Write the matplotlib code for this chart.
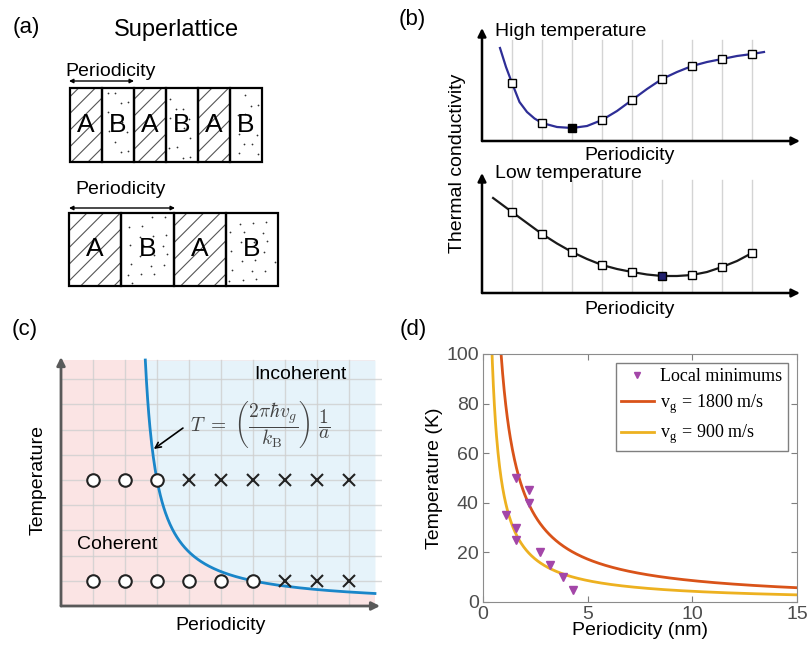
import numpy as np
import matplotlib
matplotlib.use("Agg")
import matplotlib.pyplot as plt
from matplotlib.patches import Rectangle

plt.rcParams['font.family'] = ['Liberation Sans', 'DejaVu Sans']
plt.rcParams['mathtext.fontset'] = 'cm'
plt.rcParams['hatch.linewidth'] = 0.8

W, H = 810, 649

# ---- data ----
# (a) superlattice layers
layers_thin = ['A', 'B', 'A', 'B', 'A', 'B']
layers_thick = ['A', 'B', 'A', 'B']

# (b) schematic thermal conductivity vs periodicity (arbitrary units)
period_idx = [1, 2, 3, 4, 5, 6, 7, 8, 9]
k_high = [5.8, 1.8, 1.3, 2.1, 4.1, 6.2, 7.5, 8.2, 8.7]
k_low = [8.1, 5.9, 4.1, 2.8, 2.1, 1.7, 1.8, 2.6, 4.0]
min_high, min_low = 3, 6
# traced line through the markers
line_high_x = [0.6, 0.8, 1.0, 1.25, 1.5, 1.75, 2.0, 2.5, 3.0, 3.5, 4.0, 4.5, 5.0,
               5.5, 6.0, 6.5, 7.0, 7.5, 8.0, 8.5, 9.0, 9.4]
line_high_y = [9.3, 7.4, 5.8, 3.9, 2.9, 2.25, 1.8, 1.4, 1.3, 1.5, 2.1, 3.0, 4.1,
               5.2, 6.2, 6.9, 7.5, 7.9, 8.2, 8.5, 8.7, 8.9]
line_low_x = [0.37, 1.0, 1.5, 2.0, 2.5, 3.0, 3.5, 4.0, 4.5, 5.0, 5.5, 6.0, 6.5,
              7.0, 7.5, 8.0, 8.5, 9.0]
line_low_y = [9.5, 8.1, 7.0, 5.9, 4.95, 4.1, 3.4, 2.8, 2.4, 2.1, 1.85, 1.7, 1.7,
              1.8, 2.1, 2.6, 3.2, 4.0]

# (c) coherent / incoherent schematic
grid_pos = [1, 2, 3, 4, 5, 6, 7, 8, 9]
row_high_T = 5
row_high_state = ['o', 'o', 'o', 'x', 'x', 'x', 'x', 'x', 'x']
row_low_T = 1
row_low_state = ['o', 'o', 'o', 'o', 'o', 'o', 'x', 'x', 'x']
c_const, c_shift = 3.75, 2.25  # T = c/(a - a0) in schematic units

# (d) local minimums
min_period = [1.1, 1.6, 1.6, 1.6, 2.2, 2.2, 2.7, 3.2, 3.8, 4.3]
min_temp = [35, 50, 30, 25, 45, 40, 20, 15, 10, 5]
vg_list = [1800, 900]
vg_colors = ['#D95319', '#EDB120']
h_over_kB = 4.799e-11  # K s


def box(l, t, r, b):
    return [l / W, 1 - b / H, (r - l) / W, (b - t) / H]


def ftext(x, y, s, **kw):
    fig.text(x / W, 1 - y / H, s, **kw)


fig = plt.figure(figsize=(W / 100, H / 100), dpi=100)

# ================= (a) =================
axa = fig.add_axes(box(0, 0, 300, 300))
axa.set_xlim(0, 300)
axa.set_ylim(300, 0)
axa.axis('off')


def stipple(x, top, cw, ch, seed):
    # evenly scattered dot texture (R2 low-discrepancy sequence)
    n = int(cw * ch / 190)
    k = np.arange(seed, seed + n)
    u = (0.5 + 0.7548776662 * k) % 1
    v = (0.5 + 0.5698402910 * k) % 1
    axa.scatter(x + 3 + u * (cw - 6), top + 3 + v * (ch - 6), s=1.6,
                color='#333333', lw=0, zorder=2)


def draw_row(x0, top, cw, ch, layers, seed0):
    for i, lay in enumerate(layers):
        x = x0 + i * cw
        if lay == 'A':
            axa.add_patch(Rectangle((x, top), cw, ch, facecolor='white',
                                    edgecolor='#555555', lw=0, hatch='//'))
        else:
            stipple(x, top, cw, ch, seed0 + 17 * i)
        axa.add_patch(Rectangle((x, top), cw, ch, facecolor='none',
                                edgecolor='black', lw=1.6, zorder=3))
        axa.text(x + cw / 2, top + ch / 2, lay, ha='center', va='center',
                 fontsize=19, zorder=4)


draw_row(70, 88, 32, 74, layers_thin, 3)
draw_row(69, 213, 52.25, 73, layers_thick, 101)
axa.annotate('', xy=(134, 81), xytext=(69, 81),
             arrowprops=dict(arrowstyle='<|-|>', color='black', lw=1,
                             mutation_scale=6, shrinkA=0, shrinkB=0))
axa.annotate('', xy=(175, 208), xytext=(69, 208),
             arrowprops=dict(arrowstyle='<|-|>', color='black', lw=1,
                             mutation_scale=6, shrinkA=0, shrinkB=0))
axa.text(111, 71, 'Periodicity', ha='center', va='center', fontsize=14)
axa.text(121, 190, 'Periodicity', ha='center', va='center', fontsize=14)
ftext(176, 30, 'Superlattice', ha='center', va='center', fontsize=17)
ftext(26, 28, '(a)', ha='center', va='center', fontsize=16)

# ================= (b) =================
def schematic_axes(rect, ymax, grid_top, lx, ly, mk, min_i, min_color, line_color):
    ax = fig.add_axes(rect)
    ax.set_xlim(0, 10.6)
    ax.set_ylim(0, ymax)
    ax.axis('off')
    for p in period_idx:
        ax.plot([p, p], [0, grid_top], color='#d4d4d4', lw=1, zorder=1)
    ax.plot(lx, ly, color=line_color, lw=1.6, zorder=2)
    for p, v in zip(period_idx, mk):
        fc = min_color if p == min_i else 'white'
        ax.plot(p, v, marker='s', ms=6, mfc=fc, mec='black', mew=1,
                zorder=3, clip_on=False)
    ax.annotate('', xy=(10.6, 0), xytext=(0, 0),
                arrowprops=dict(arrowstyle='-|>', color='black', lw=1.8,
                                mutation_scale=12, shrinkA=0, shrinkB=0),
                annotation_clip=False)
    ax.annotate('', xy=(0, ymax), xytext=(0, 0),
                arrowprops=dict(arrowstyle='-|>', color='black', lw=1.8,
                                mutation_scale=12, shrinkA=0, shrinkB=0),
                annotation_clip=False)
    return ax


schematic_axes(box(482, 28, 800, 141), 11.3, 10.1, line_high_x, line_high_y,
               k_high, min_high, 'black', '#2E2E96')
schematic_axes(box(482, 173, 800, 293), 12.0, 11.3, line_low_x, line_low_y,
               k_low, min_low, '#1F1F6E', '#1a1a1a')
ftext(495, 32, 'High temperature', ha='left', va='center', fontsize=14)
ftext(495, 174, 'Low temperature', ha='left', va='center', fontsize=14)
ftext(630, 155, 'Periodicity', ha='center', va='center', fontsize=14)
ftext(630, 309, 'Periodicity', ha='center', va='center', fontsize=14)
ftext(457, 163, 'Thermal conductivity', ha='center', va='center',
      fontsize=14, rotation=90)
ftext(412, 20, '(b)', ha='center', va='center', fontsize=16)

# ================= (c) =================
axc = fig.add_axes(box(61, 357, 382, 606))
axc.set_xlim(0, 10.03)
axc.set_ylim(0, 9.88)
axc.axis('off')
fill_right, fill_top = 9.81, 9.76
axc.add_patch(Rectangle((0, 0), fill_right, fill_top, facecolor='#FBE4E4',
                        edgecolor='none', zorder=0))
x_start = c_shift + c_const / fill_top
xc = np.linspace(x_start, fill_right, 400)
Tc = c_const / (xc - c_shift)
axc.fill_between(xc, Tc, fill_top, color='#E6F3FA', lw=0, zorder=0)
for g in grid_pos:
    axc.plot([g, g], [0, fill_top], color='#cfcfcf', lw=1, alpha=0.8, zorder=1)
    axc.plot([0, 10.0], [g, g], color='#cfcfcf', lw=1, alpha=0.8, zorder=1)
axc.plot(xc, Tc, color='#1A86C9', lw=2, zorder=2)
for T, states in [(row_high_T, row_high_state), (row_low_T, row_low_state)]:
    for g, s in zip(grid_pos, states):
        if s == 'o':
            axc.plot(g, T, marker='o', ms=9, mfc='white', mec='#222222',
                     mew=1.5, zorder=3)
        else:
            axc.plot(g, T, marker='x', ms=9, color='#222222', mew=1.5, zorder=3)
for xy_end in [(9.97, 0), (0, 9.88)]:
    axc.annotate('', xy=xy_end, xytext=(0, 0),
                 arrowprops=dict(arrowstyle='-|>', color='#595959', lw=2,
                                 mutation_scale=12, shrinkA=0, shrinkB=0),
                 annotation_clip=False)
axc.text(7.47, 9.2, 'Incoherent', ha='center', va='center', fontsize=14)
axc.text(1.75, 2.46, 'Coherent', ha='center', va='center', fontsize=14)
axc.text(6.22, 7.2,
         r'$T\ =\ \left(\dfrac{2\pi\hbar v_g}{k_\mathrm{B}}\right)\ \dfrac{1}{a}$',
         ha='center', va='center', fontsize=14, color='#444444')
axc.annotate('', xy=(2.9, 6.23), xytext=(3.81, 7.06),
             arrowprops=dict(arrowstyle='->', color='black', lw=1.2,
                             shrinkA=0, shrinkB=0))
ftext(38, 480, 'Temperature', ha='center', va='center', fontsize=14, rotation=90)
ftext(221, 625, 'Periodicity', ha='center', va='center', fontsize=14)
ftext(25, 330, '(c)', ha='center', va='center', fontsize=16)

# ================= (d) =================
axd = fig.add_axes(box(483, 354, 797, 602))
a = np.linspace(0.3, 15, 600)
for vg, col in zip(vg_list, vg_colors):
    axd.plot(a, h_over_kB * vg / (a * 1e-9), color=col, lw=2,
             label=r'v$_\mathregular{g}$ = %d m/s' % vg)
axd.plot(min_period, min_temp, linestyle='none', marker='v', ms=6,
         color='#A346A8', label='Local minimums')
axd.set_xlim(0, 15)
axd.set_ylim(0, 100)
axd.set_xticks([0, 5, 10, 15])
axd.set_yticks([0, 20, 40, 60, 80, 100])
axd.tick_params(direction='in', top=True, right=True, length=4,
                labelsize=14, colors='#7f7f7f', labelcolor='#4d4d4d', pad=3)
for sp in axd.spines.values():
    sp.set_color('#8c8c8c')
axd.set_xlabel('Periodicity (nm)', fontsize=14, labelpad=-1)
axd.set_ylabel('Temperature (K)', fontsize=14, labelpad=2)
h, l = axd.get_legend_handles_labels()
leg = axd.legend([h[2], h[0], h[1]], [l[2], l[0], l[1]], loc='upper right',
                 bbox_to_anchor=(0.97, 0.965), fancybox=False,
                 edgecolor='#7f7f7f', framealpha=1, handlelength=1.8,
                 handletextpad=0.35, borderpad=0.3, labelspacing=0.4,
                 borderaxespad=0, markerscale=0.8,
                 prop={'family': 'Liberation Serif', 'size': 13})
leg.get_frame().set_linewidth(1)
ftext(413, 330, '(d)', ha='center', va='center', fontsize=16)

fig.savefig('out.png', dpi=100)
